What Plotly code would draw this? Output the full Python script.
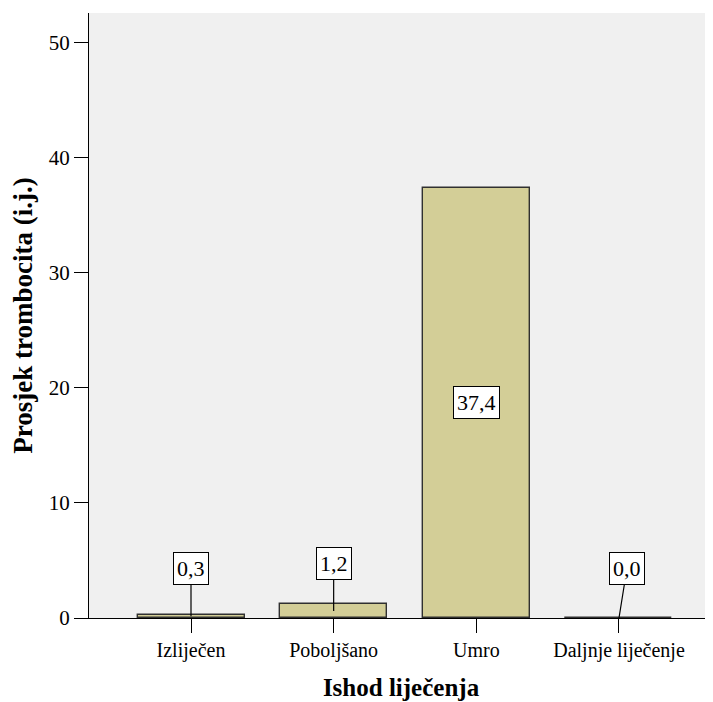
import plotly.graph_objects as go

# Data
outcomes = ['Izliječen', 'Poboljšano', 'Umro', 'Daljnje liječenje']
mean_platelets = [0.3, 1.2, 37.4, 0.0]
value_labels = ['0,3', '1,2', '37,4', '0,0']

font_family = 'Liberation Serif, Times New Roman, serif'

fig = go.Figure()

fig.add_trace(go.Bar(
    x=outcomes,
    y=mean_platelets,
    width=0.75,
    marker_color='#d3ce97',
    marker_line_color='#303030',
    marker_line_width=1.4,
    hoverinfo='skip',
))

# Value labels: boxed text; small bars get a leader line to the bar middle
for cat, val, lab in zip(outcomes, mean_platelets, value_labels):
    inside = val > 10
    fig.add_annotation(
        x=cat, y=val / 2,
        text=lab,
        showarrow=not inside,
        arrowhead=0, arrowwidth=1.2, arrowcolor='black',
        ax=8 if val == 0 else 0, ay=-50 if val == 0 else -48,
        bgcolor='white', bordercolor='black', borderwidth=1, borderpad=3,
        font=dict(family=font_family, size=22, color='black'),
    )

# page body adds an 8px offset, so the figure is a bit smaller than the window
fig.update_layout(
    width=705, height=694,
    margin=dict(l=81, r=0, t=5, b=84),
    paper_bgcolor='white',
    plot_bgcolor='#f0f0f0',
    showlegend=False,
    font=dict(family=font_family, color='black'),
    bargap=0,
)

fig.update_xaxes(
    type='category',
    range=[-0.715, 3.659],
    showline=True, linecolor='black', linewidth=1.3,
    ticks='outside', ticklen=14, tickcolor='black', tickwidth=1.3,
    showgrid=False, zeroline=False,
    tickfont=dict(family=font_family, size=20, color='black'),
    title=dict(text='<b>Ishod liječenja</b>', font=dict(family=font_family, size=25, color='black'), standoff=17),
)

fig.update_yaxes(
    range=[0, 52.6],
    tickvals=[0, 10, 20, 30, 40, 50],
    showline=True, linecolor='black', linewidth=1.3,
    ticks='outside', ticklen=14, tickcolor='black', tickwidth=1.3,
    showgrid=False, zeroline=False,
    tickfont=dict(family=font_family, size=21, color='black'),
    title=dict(text='<b>Prosjek trombocita (i.j.)</b>', font=dict(family=font_family, size=27, color='black'), standoff=8),
)

fig.write_html('out.html')
